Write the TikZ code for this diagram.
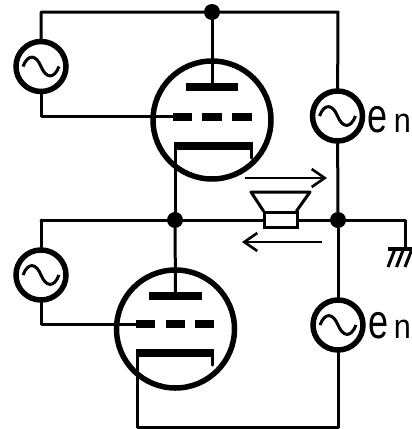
\documentclass[tikz,border=0pt]{standalone}
\usepackage{fontspec}
\setmainfont{Liberation Sans}
\usetikzlibrary{positioning, arrows.meta}
\tikzset{
	wire/.append style={
		line width=3pt,
		line cap=round,
		line join=round,
	},
	tube/.append style={
		draw,
		circle,
		line width=5.5pt,
		inner sep=0pt,
		minimum size=118pt,
	},
	source/.append style={
		draw,
		circle,
		line width=5.5pt,
		inner sep=0pt,
		minimum size=50pt,
	},
	electrode/.append style={
		fill=black,
		inner sep=0pt,
		minimum height=8pt,
	},
	joint/.append style={
		fill=black,
		circle,
		inner sep=0pt,
		minimum size=16pt,
	},
	flow/.append style={
		line width=2.6pt,
		-{Straight Barb[length=13pt,width=18pt,line width=2.6pt]},
	},
	letter/.append style={
		inner sep=0pt,
		anchor=base,
		font={\fontsize{36}{36}\selectfont},
	},
}
\newcommand{\tallE}{\scalebox{1.0}[1.35]{e}}
\newcommand{\wideN}{\scalebox{0.85}[0.95]{n}}

\begin{document}
\begin{tikzpicture}[x=1pt,y=-1pt]
\useasboundingbox (0,0) rectangle (412,429);

% tubes
\node[tube](tubeA) at (212,120) {};
\node[tube](tubeB) at (175.5,329) {};

% upper electrodes
\node[electrode, minimum width=52pt](plateA) at (212,87) {};
\node[electrode, minimum width=19pt](gridAa) at (182.5,116.5) {};
\node[electrode, minimum width=20pt](gridAb) at (212,116.5) {};
\node[electrode, minimum width=20pt](gridAc) at (242,116.5) {};
\node[electrode, minimum width=79pt](cathA) at (213.5,146) {};

% lower electrodes
\node[electrode, minimum width=53pt](plateB) at (175.5,296) {};
\node[electrode, minimum width=19pt](gridBa) at (145.5,324) {};
\node[electrode, minimum width=19pt](gridBb) at (175,324) {};
\node[electrode, minimum width=19pt](gridBc) at (204.5,324) {};
\node[electrode, minimum width=78pt](cathB) at (175,353) {};

% sources
\node[source](srcA) at (41,66.5) {};
\node[source](srcB) at (337.5,116) {};
\node[source](srcC) at (41,275) {};
\node[source](srcD) at (338,325) {};
\foreach \s in {srcA,srcB,srcC,srcD}{
	\draw[wire, line cap=butt] ([xshift=-18pt]\s.center)
		.. controls ([xshift=-13pt,yshift=13pt]\s.center) and ([xshift=-5pt,yshift=12pt]\s.center) .. (\s.center)
		.. controls ([xshift=5pt,yshift=-12pt]\s.center) and ([xshift=13pt,yshift=-13pt]\s.center) .. ([xshift=18pt]\s.center);
}

% joints and corners
\node[joint](dotA) at (212,12) {};
\node[joint](dotB) at (175,220) {};
\node[joint](dotC) at (338,220) {};
\coordinate (cornerA) at (41,12);
\coordinate (cornerB) at (338,12);
\coordinate (cornerC) at (137,427);
\coordinate (cornerD) at (41,220);
\coordinate (cornerE) at (405,220);

% speaker
\node[draw, fill=white, line width=3pt, minimum width=33pt, minimum height=15pt, inner sep=0pt](voice) at (280.5,220) {};
\coordinate (coneA) at (251,192);
\coordinate (coneB) at (310,192);

% ground
\coordinate (gndA) at (405,249);
\coordinate (gndL) at (388,249);
\coordinate (gndR) at (412,249);

% wiring
\draw[wire] (srcA) -- (cornerA) -- (cornerB) -- (srcB);
\draw[wire] (dotA) -- (plateA);
\draw[wire] (srcA) |- (gridAa.west);
\draw[wire] (dotB |- cathA) -- (dotB);
\draw[wire] ([xshift=-1.5pt]cathA.south east) -- ++(0,8);
\draw[wire] (srcB) -- (dotC);
\draw[wire] (cornerD) -- (voice) (voice) -- (dotC) -- (cornerE) -- (gndA);
\draw[wire] (cornerD) -- (srcC);
\draw[wire] (dotB) -- (plateB);
\draw[wire] (srcC) |- (gridBa.west);
\draw[wire] (cornerC |- cathB) -- (cornerC) -- (cornerC -| srcD) -- (srcD);
\draw[wire] ([xshift=-1.5pt]cathB.south east) -- ++(0,8);
\draw[wire] (dotC) -- (srcD);
\draw[wire] ([xshift=1pt]voice.north west) -- (coneA) -- (coneB) -- ([xshift=-2pt]voice.north east);

\draw[line width=4pt] (gndL) -- (gndR);
\foreach \i in {0,1,2}{
	\draw[line width=3pt] ([xshift=\i*8.5pt+7pt]gndL) -- ([xshift=\i*8.5pt,yshift=-18pt]gndL);
}

% current arrows
\coordinate (flowA) at (245,178);
\coordinate (flowB) at (327,178);
\coordinate (flowC) at (322,242);
\coordinate (flowD) at (242,242);
\draw[flow] (flowA) -- (flowB);
\draw[flow] (flowC) -- (flowD);

% labels
\node[letter](enA) at (378,132) {\tallE};
\node[letter](nA) at (402.5,132) {\wideN};
\node[letter](enB) at (378.5,338) {\tallE};
\node[letter](nB) at (402.5,338) {\wideN};
\end{tikzpicture}
\end{document}
